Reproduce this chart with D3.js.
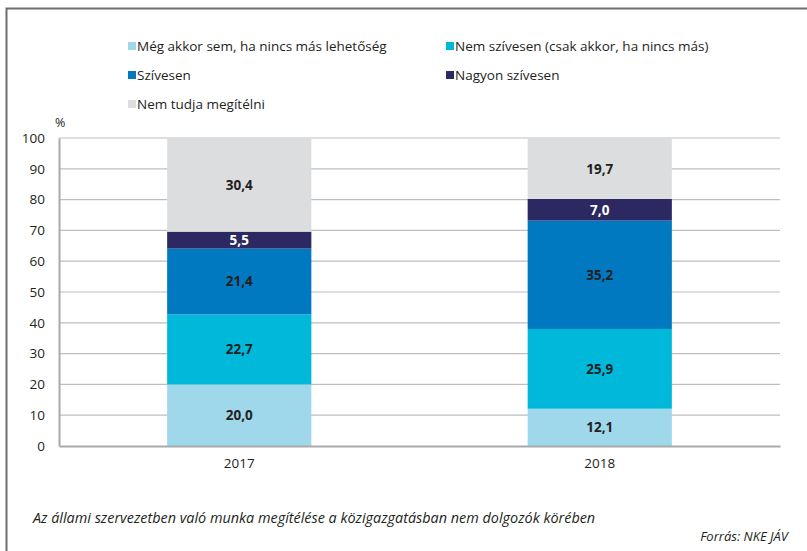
<!DOCTYPE html>
<html>
<head>
<meta charset="utf-8">
<script src="https://cdn.jsdelivr.net/npm/d3@7"></script>
<style>
  body { margin: 0; background: #fff; }
  svg text { font-family: "Open Sans", "Noto Sans", sans-serif; fill: #231f20; }
</style>
</head>
<body>
<svg id="chart" width="807" height="551"></svg>
<script>
var years = ["2017", "2018"]
var seriesNames = ["Még akkor sem, ha nincs más lehetőség", "Nem szívesen (csak akkor, ha nincs más)", "Szívesen", "Nagyon szívesen", "Nem tudja megítélni"]
var seriesKeys = ["meg", "nem", "sziv", "nagyon", "nemtud"]
var seriesColors = ["#9fd8ea", "#00b8d9", "#0079c1", "#2b2862", "#dcdddf"]
var v2017 = [20.0, 22.7, 21.4, 5.5, 30.4]
var v2018 = [12.1, 25.9, 35.2, 7.0, 19.7]
var yTicks = [0, 10, 20, 30, 40, 50, 60, 70, 80, 90, 100]

var rows = [v2017, v2018].map(function(vals, i){
  var o = {year: years[i]}
  seriesKeys.forEach(function(k, j){ o[k] = vals[j] })
  return o
})

var svg = d3.select("#chart")

// frame
svg.append("path")
  .attr("d", "M6.5,551 V8.5 H807")
  .attr("fill", "none")
  .attr("stroke", "#6d6e70")
  .attr("stroke-width", 2)

var pLeft = 59, pRight = 780, pTop = 138, pBottom = 446

var x = d3.scaleBand().domain(years).range([pLeft, pRight]).paddingInner(0.6).paddingOuter(0.3)
var y = d3.scaleLinear().domain([0, 100]).range([pBottom, pTop])

// gridlines
svg.append("g")
  .selectAll("line")
  .data(yTicks.filter(function(d){ return d > 0 }))
  .enter().append("line")
    .attr("x1", pLeft).attr("x2", pRight)
    .attr("y1", function(d){ return y(d) }).attr("y2", function(d){ return y(d) })
    .attr("stroke", "#bcbec0").attr("stroke-width", 1.2)

// y axis
var yAxis = svg.append("g")
  .attr("transform", "translate(" + pLeft + ",0)")
  .call(d3.axisLeft(y).tickValues(yTicks).tickSize(0).tickPadding(14))
yAxis.select(".domain").attr("stroke", "#a7a9ac").attr("stroke-width", 2)
yAxis.selectAll("text").style("font-size", "13.5px").attr("fill", "#231f20")

svg.append("text").attr("x", 55).attr("y", 127).style("font-size", "12.5px").text("%")

// stacked bars
var stack = d3.stack().keys(seriesKeys)(rows)

var layer = svg.append("g").selectAll("g")
  .data(stack)
  .enter().append("g")
    .attr("fill", function(d, i){ return seriesColors[i] })

layer.selectAll("rect")
  .data(function(d){ return d })
  .enter().append("rect")
    .attr("x", function(d){ return x(d.data.year) })
    .attr("width", x.bandwidth())
    .attr("y", function(d){ return y(d[1]) })
    .attr("height", function(d){ return y(d[0]) - y(d[1]) })

layer.each(function(s, i){
  d3.select(this).selectAll("text")
    .data(s)
    .enter().append("text")
      .attr("x", function(d){ return x(d.data.year) + x.bandwidth() / 2 })
      .attr("y", function(d){ return (y(d[0]) + y(d[1])) / 2 })
      .attr("dy", "0.36em")
      .attr("text-anchor", "middle")
      .style("font-size", "13.5px")
      .style("font-weight", "bold")
      .style("fill", i == 3 ? "#fff" : "#231f20")
      .text(function(d){ return d3.format(".1f")(d[1] - d[0]).replace(".", ",") })
})

// x axis
var xAxis = svg.append("g")
  .attr("transform", "translate(0," + pBottom + ")")
  .call(d3.axisBottom(x).tickSize(0).tickPadding(12))
xAxis.select(".domain").attr("stroke", "#a7a9ac").attr("stroke-width", 2)
xAxis.selectAll("text").style("font-size", "13.5px").attr("fill", "#231f20")

// legend
var legendPos = [[128, 46], [446, 46], [128, 75], [446, 75], [128, 104]]
var legend = svg.append("g").selectAll("g")
  .data(seriesNames)
  .enter().append("g")
    .attr("transform", function(d, i){ return "translate(" + legendPos[i][0] + "," + legendPos[i][1] + ")" })
legend.append("rect")
  .attr("x", 0).attr("y", -4).attr("width", 8).attr("height", 8)
  .attr("fill", function(d, i){ return seriesColors[i] })
legend.append("text")
  .attr("x", 9).attr("y", 0).attr("dy", "0.35em")
  .style("font-size", "13.5px")
  .text(function(d){ return d })

// footer
svg.append("text").attr("x", 33).attr("y", 523)
  .style("font-size", "14.4px").style("font-style", "italic")
  .text("Az állami szervezetben való munka megítélése a közigazgatásban nem dolgozók körében")
svg.append("text").attr("x", 788).attr("y", 541).attr("text-anchor", "end")
  .style("font-size", "13px").style("font-style", "italic")
  .text("Forrás: NKE JÁV")
</script>
</body>
</html>
